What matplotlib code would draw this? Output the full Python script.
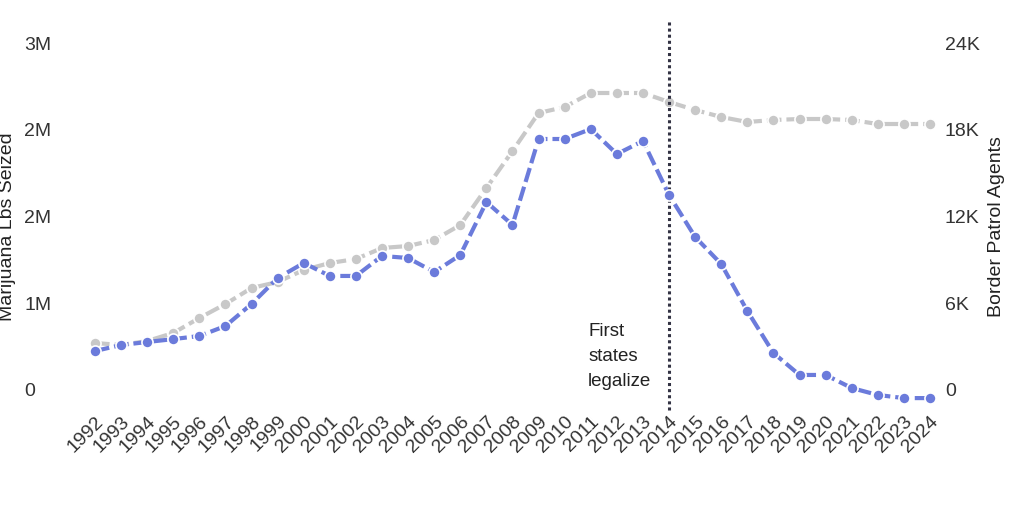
import matplotlib
matplotlib.use("Agg")
import matplotlib.pyplot as plt

years = list(range(1992, 2025))
marijuana_m = [0.337,0.389,0.415,0.44,0.467,0.553,0.744,0.968,1.098,0.986,0.986,1.159,1.141,1.02,1.167,
               1.625,1.427,2.17,2.17,2.256,2.04,2.153,1.686,1.323,1.089,0.683,0.32,0.13,0.13,0.017,-0.043,-0.07,-0.07]
agents = [3251,3112,3389,3942,4980,5948,7055,7470,8300,8784,9060,9821,9960,10375,11412,
          13971,16530,19158,19573,20542,20542,20542,19919,19366,18882,18536,18674,18743,18743,18674,18397,18397,18397]
left_ticks = [0, 0.75, 1.5, 2.25, 3.0]
left_labels = ["0", "1M", "2M", "2M", "3M"]
right_ticks = [0, 6000, 12000, 18000, 24000]
right_labels = ["0", "6K", "12K", "18K", "24K"]

plt.rcParams['font.family'] = ['Liberation Sans', 'DejaVu Sans']
fig = plt.figure(figsize=(10.24, 5.12), dpi=100)
ax = fig.add_axes([80/1024, 1-410/512, 865/1024, 367/512])
ax2 = ax.twinx()
lo = -20/347
ax.set_ylim(lo*3.0, 3.0)
ax2.set_ylim(lo*24000, 24000)
ax.set_xlim(1992-15/26.1, 2024+15/26.1)

ax2.plot(years, agents, color="#c8c8c8", lw=3, ls=(0, (3.5, 1.2)), marker="o", ms=8,
         markeredgecolor="white", markeredgewidth=1.2, zorder=2)
ax.plot(years, marijuana_m, color="#6b7bdb", lw=3, ls=(0, (3.5, 1.2)), marker="o", ms=8,
        markeredgecolor="white", markeredgewidth=1.2, zorder=3)
ax.set_zorder(ax2.get_zorder()+1)
ax.patch.set_visible(False)

ax.axvline(2014, color="#333344", ls=(0, (1, 1)), lw=2.2, ymax=1.06, clip_on=False)
ax.text(2010.9, 0.0, "First\nstates\nlegalize", ha="left", va="bottom", fontsize=13.5,
        color="#222222", linespacing=1.6)

for a in (ax, ax2):
    for s in a.spines.values():
        s.set_visible(False)
    a.tick_params(length=0, labelsize=14, colors="#333333")
ax.set_yticks(left_ticks, left_labels)
ax2.set_yticks(right_ticks, right_labels)
for lab in ax.get_yticklabels():
    lab.set_horizontalalignment("left")
ax.tick_params(axis='y', pad=40)
ax2.tick_params(axis='y', pad=0)
ax.set_xticks(years, [str(y) for y in years], rotation=45, ha="right", rotation_mode="anchor")
ax.tick_params(axis='x', labelsize=14, pad=2)
ax.set_ylabel("Marijuana Lbs Seized", fontsize=14, color="#222222", labelpad=6)
ax2.set_ylabel("Border Patrol Agents", fontsize=14, color="#222222", labelpad=6)

fig.savefig("out.png", dpi=100)
